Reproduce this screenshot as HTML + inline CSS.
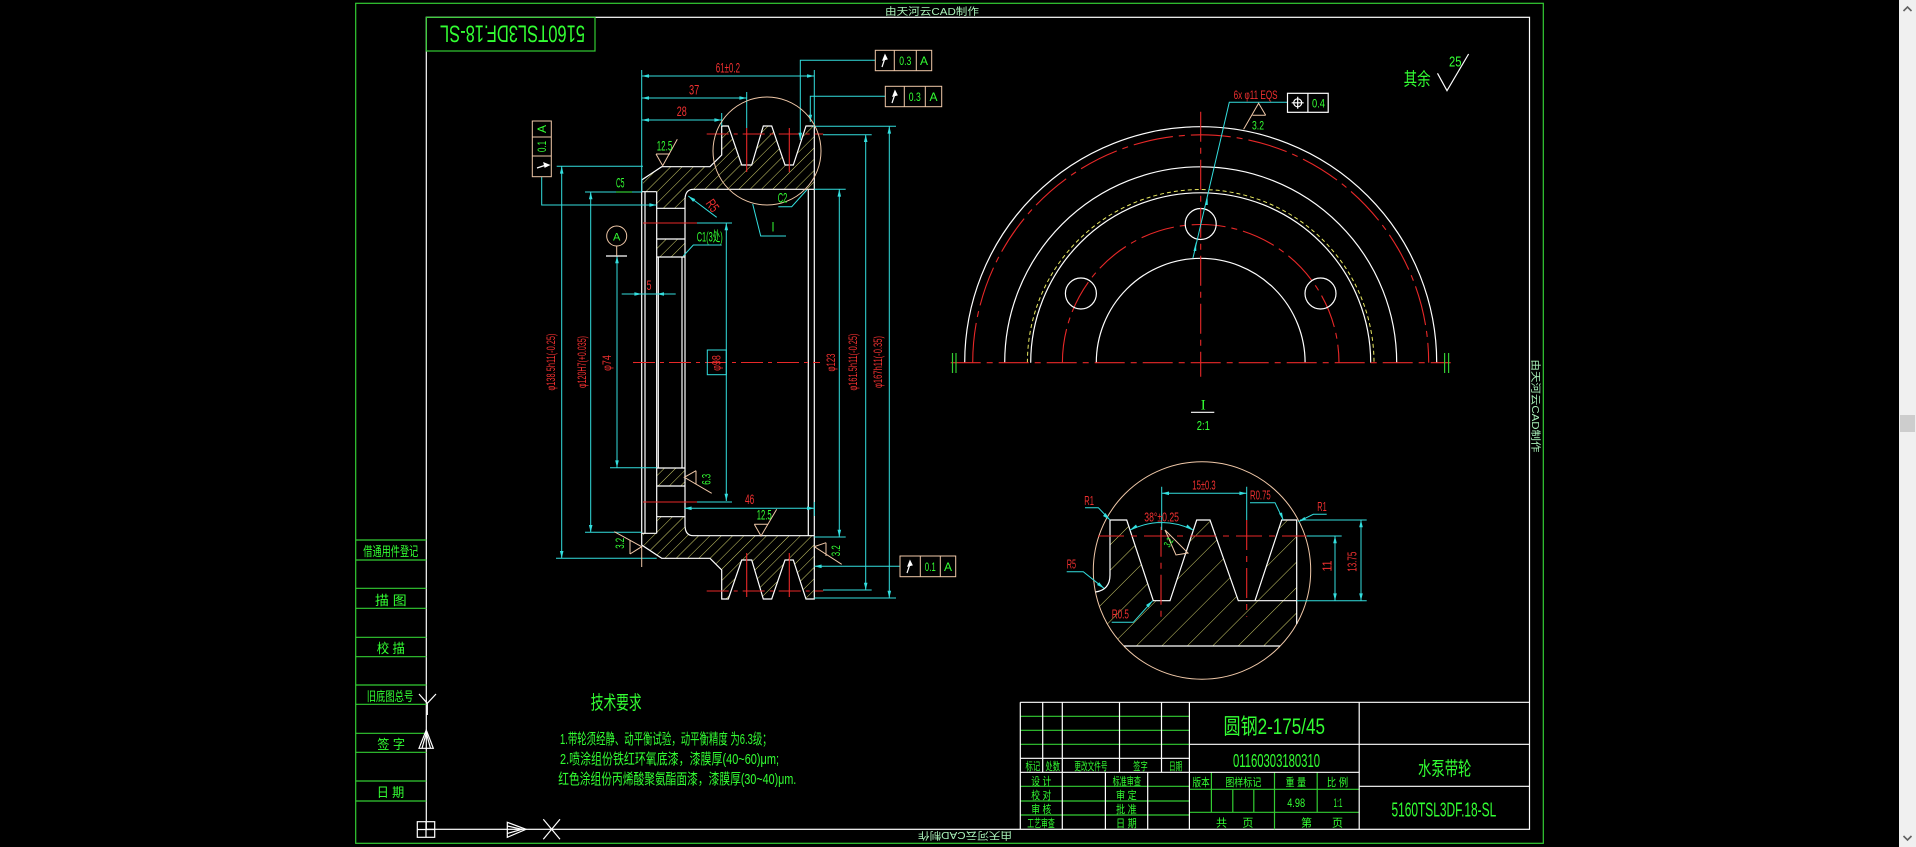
<!DOCTYPE html>
<html><head><meta charset="utf-8"><style>
html,body{margin:0;padding:0;background:#000;overflow:hidden;width:1916px;height:847px}
svg{display:block;font-family:"Liberation Sans","Noto Sans CJK SC",sans-serif}
.w{stroke:#fff;stroke-width:1.2;fill:none}
.gl{stroke:#33cc33;stroke-width:1.2;fill:none}
.c{stroke:#33dede;stroke-width:1;fill:none}
.r{stroke:#e82828;stroke-width:1.1;fill:none}
.p{stroke:#f0c8a8;stroke-width:1;fill:none}
.dd{stroke-dasharray:22 5 4 5}
.tg{fill:#3f3}.tr{fill:#f03030}.tw{fill:#fff}
.ca{fill:#33dede}
</style></head><body>
<svg width="1916" height="847" viewBox="0 0 1916 847" xmlns="http://www.w3.org/2000/svg">
<defs>
<pattern id="h1" patternUnits="userSpaceOnUse" width="8" height="8" patternTransform="rotate(45)"><line x1="0" y1="0" x2="0" y2="8" stroke="#e8e878" stroke-width="0.9"/></pattern>
<pattern id="h2" patternUnits="userSpaceOnUse" width="8" height="8" patternTransform="rotate(-45)"><line x1="0" y1="0" x2="0" y2="8" stroke="#e8e878" stroke-width="0.9"/></pattern>
<pattern id="h3" patternUnits="userSpaceOnUse" width="18" height="18" patternTransform="rotate(45)"><line x1="0" y1="0" x2="0" y2="18" stroke="#e8e878" stroke-width="0.9"/></pattern>
</defs>
<rect width="1916" height="847" fill="#000"/>

<!-- frames -->
<rect x="355.7" y="3.3" width="1187.6" height="840" fill="none" stroke="#33cc33" stroke-width="1.2"/>
<rect x="426.3" y="17.3" width="1103.2" height="812" fill="none" stroke="#fff" stroke-width="1.2"/>
<text x="932" y="15" font-size="10" fill="#a8f0b8" text-anchor="middle" textLength="94" lengthAdjust="spacingAndGlyphs">由天河云CAD制作</text>
<text transform="rotate(180 965 836)" x="965" y="840" font-size="10" fill="#a8f0b8" text-anchor="middle" textLength="94" lengthAdjust="spacingAndGlyphs">由天河云CAD制作</text>
<text transform="rotate(90 1536 406)" x="1536" y="410" font-size="10" fill="#a8f0b8" text-anchor="middle" textLength="93" lengthAdjust="spacingAndGlyphs">由天河云CAD制作</text>

<!-- top-left reversed number box -->
<rect x="426.3" y="17.3" width="168.7" height="33.7" fill="none" stroke="#33cc33" stroke-width="1.2"/>
<text transform="rotate(180 512.5 34)" x="512.5" y="42.6" font-size="24" class="tg" text-anchor="middle" textLength="145" lengthAdjust="spacingAndGlyphs">5160TSL3DF.18-SL</text>

<!-- ===== LEFT SECTION VIEW ===== -->
<path d="M643,180 L661.7,166.7 H710 L721.7,155 V126 H728.3 L741.7,165 H751.7 L763.3,126 H771.7 L785,165 H793.3 L806,126 H814.3 V189.3 H693.3 Q685,189.3 685,200 V208.3 H656.7 V191.7 H643 Z" fill="url(#h1)"/>
<rect x="656.7" y="239" width="28.3" height="18" fill="url(#h1)"/>
<g transform="matrix(1 0 0 -1 0 725)">
<path d="M643,180 L661.7,166.7 H710 L721.7,155 V126 H728.3 L741.7,165 H751.7 L763.3,126 H771.7 L785,165 H793.3 L806,126 H814.3 V189.3 H693.3 Q685,189.3 685,200 V208.3 H656.7 V191.7 H643 Z" fill="url(#h2)"/>
<rect x="656.7" y="239" width="28.3" height="18" fill="url(#h2)"/>
</g>
<g>
 <path class="w" d="M641.7,362.5 V180 L661.7,166.7 H710 L721.7,155 V126 H728.3 L741.7,165 H751.7 L763.3,126 H771.7 L785,165 H793.3 L806,126 H814.3 V362.5"/>
 <path class="w" d="M808.3,189.3 V362.5 M814.3,189.3 H693.3 Q685,189.3 685,200 V362.5 M641.7,191.7 H656.7 M645,191.7 V362.5 M656.7,191.7 V362.5 M658.3,257 V362.5 M682,257 V362.5 M656.7,208.3 H685 M656.7,239 H685 M656.7,257 H685"/>
 <path class="r dd" d="M706.7,134 H823.3"/>
 <path class="r" d="M746.7,128 V172 M789.3,128 V172 M643,223 H697"/>
</g>
<g transform="matrix(1 0 0 -1 0 725)">
 <path class="w" d="M641.7,362.5 V180 L661.7,166.7 H710 L721.7,155 V126 H728.3 L741.7,165 H751.7 L763.3,126 H771.7 L785,165 H793.3 L806,126 H814.3 V362.5"/>
 <path class="w" d="M808.3,189.3 V362.5 M814.3,189.3 H693.3 Q685,189.3 685,200 V362.5 M641.7,191.7 H656.7 M645,191.7 V362.5 M656.7,191.7 V362.5 M658.3,257 V362.5 M682,257 V362.5 M656.7,208.3 H685 M656.7,239 H685 M656.7,257 H685"/>
 <path class="r dd" d="M706.7,134 H823.3"/>
 <path class="r" d="M746.7,128 V172 M789.3,128 V172 M643,223 H697"/>
 <path class="c" d="M697,223 H732"/>
</g>
<path class="c" d="M697,223 H732"/>
<path class="r dd" d="M633,362.5 H820"/>

<!-- cyan dimension lines -->
<path class="c" d="M641.7,70 V192 M641.7,76 H814.3 M814.3,70 V126 M641.7,98 H746.7 M746.7,92 V128 M641.7,120 H721.7 M721.7,113 V126
M875.3,60.3 H800.3 V140 M885.3,96.3 H810.3 V122
M813,126.3 H896 M889.3,126.3 V598 M814.3,598 H896
M823,134.7 H871.7 M865.7,134.7 V590 M823,590 H871.7
M814.3,189.3 H845.7 M839.3,189.3 V537 M814.3,537 H845.7
M900,566.3 H814.3
M541.7,176.7 V205 H656.7
M556.7,166.3 H643 M561.7,166.3 V558.3 M556,558.3 H656.7
M585,192 H641.7 M590.7,192 V532.3 M585,532.3 H641.7
M617,256 V467.7 M610,467.7 H656.7
M621.7,294 H675.7
M726.3,223 V501
M684.3,508.3 H814.3 M814.3,502 V516
M716.7,217.3 L688.3,196
M721.7,245 H693.3 L683.3,256
M778.3,206.7 H791.7 L806.7,190
M752.7,204 L760.7,236 H786"/>
<g class="ca">
<polygon points="641.7,76 649,74.2 649,77.8"/><polygon points="814.3,76 807,74.2 807,77.8"/>
<polygon points="641.7,98 649,96.2 649,99.8"/><polygon points="746.7,98 739.4,96.2 739.4,99.8"/>
<polygon points="641.7,120 649,118.2 649,121.8"/><polygon points="721.7,120 714.4,118.2 714.4,121.8"/>
<polygon points="800.3,140 798.5,132.7 802.1,132.7"/><polygon points="810.3,122 808.5,114.7 812.1,114.7"/>
<polygon points="889.3,126.3 887.5,133.6 891.1,133.6"/><polygon points="889.3,598 887.5,590.7 891.1,590.7"/>
<polygon points="865.7,134.7 863.9,142 867.5,142"/><polygon points="865.7,590 863.9,582.7 867.5,582.7"/>
<polygon points="839.3,189.3 837.5,196.6 841.1,196.6"/><polygon points="839.3,537 837.5,529.7 841.1,529.7"/>
<polygon points="814.3,566.3 821.6,564.5 821.6,568.1"/>
<polygon points="656.7,205 649.4,203.2 649.4,206.8"/>
<polygon points="561.7,166.3 559.9,173.6 563.5,173.6"/><polygon points="561.7,558.3 559.9,551 563.5,551"/>
<polygon points="590.7,192 588.9,199.3 592.5,199.3"/><polygon points="590.7,532.3 588.9,525 592.5,525"/>
<polygon points="617,467.7 615.2,460.4 618.8,460.4"/><polygon points="617,256 615.2,263.3 618.8,263.3"/>
<polygon points="641.7,294 634.4,292.2 634.4,295.8"/><polygon points="656.7,294 664,292.2 664,295.8"/>
<polygon points="726.3,223 724.5,230.3 728.1,230.3"/><polygon points="726.3,501 724.5,493.7 728.1,493.7"/>
<polygon points="684.3,508.3 691.6,506.5 691.6,510.1"/><polygon points="814.3,508.3 807,506.5 807,510.1"/>
<polygon points="688.3,196 693.1,201.9 695.3,199.1"/>
</g>
<circle cx="767" cy="151" r="54" class="p"/>
<circle cx="616.7" cy="236" r="10" class="p"/>
<path class="w" d="M606,256 H627"/>
<path class="p" d="M616.7,246 V256"/>
<rect x="532.3" y="121" width="19" height="55.7" class="p"/>
<path class="p" d="M532.3,137 H551.3 M532.3,156 H551.3"/>
<rect x="900" y="556" width="55.7" height="20.7" class="p"/>
<path class="p" d="M920.3,556 V576.7 M940.3,556 V576.7"/>
<rect x="875.3" y="50.3" width="56.4" height="20.4" class="p"/>
<path class="p" d="M894.3,50.3 V70.7 M916.3,50.3 V70.7"/>
<rect x="885.3" y="86.3" width="56.4" height="20.4" class="p"/>
<path class="p" d="M904.3,86.3 V106.7 M925.3,86.3 V106.7"/>
<path class="p" d="M656,154 L662.7,165.7 L677.3,139.3 M656,154 H670"/>
<path class="p" d="M754.3,524.3 L761,536 L776.7,509.3 M754.3,524.3 H768.3"/>
<path class="p" d="M696,470.7 L684.3,477.3 L711.7,493.3 M696,470.7 V484"/>
<path class="p" d="M630,554 L641.7,546.7 L614.3,531.7 M630,540 V554 M641.7,546 V567"/>
<path class="p" d="M826,542.7 L814.3,546.7 L841.7,564.3 M826,542.7 V556"/>
<g class="tw">
<path d="M882,67 L885,58 M885,55 L883,60 L887,59 Z" stroke="#fff" stroke-width="1.2"/>
<path d="M892,103 L895,94 M895,91 L893,96 L897,95 Z" stroke="#fff" stroke-width="1.2"/>
<path d="M907,573 L910,564 M910,561 L908,566 L912,565 Z" stroke="#fff" stroke-width="1.2"/>
<path d="M537,168 L546,165 M549,165 L544,163 L545,167 Z" stroke="#fff" stroke-width="1.2"/>
</g>
<g font-size="14" class="tr">
<text x="715.7" y="72.5" textLength="24.3" lengthAdjust="spacingAndGlyphs">61±0.2</text>
<text x="689" y="94.3" textLength="10.3" lengthAdjust="spacingAndGlyphs">37</text>
<text x="676.7" y="116" textLength="10" lengthAdjust="spacingAndGlyphs">28</text>
<text x="646.5" y="290" textLength="5" lengthAdjust="spacingAndGlyphs">5</text>
<text x="745" y="504" textLength="9.3" lengthAdjust="spacingAndGlyphs">46</text>
<text transform="rotate(55 712 206)" x="712" y="210" text-anchor="middle" textLength="12" lengthAdjust="spacingAndGlyphs">R5</text>
</g>
<g font-size="12" class="tr" text-anchor="middle">
<text transform="rotate(-90 551 362)" x="551" y="366" textLength="57" lengthAdjust="spacingAndGlyphs">φ138.5h11(-0.25)</text>
<text transform="rotate(-90 582 362)" x="582" y="366" textLength="52" lengthAdjust="spacingAndGlyphs">φ120H7(+0.035)</text>
<text transform="rotate(-90 607 363)" x="607" y="367" textLength="15.7" lengthAdjust="spacingAndGlyphs">φ74</text>
<text transform="rotate(-90 716.7 363)" x="716.7" y="367" textLength="15.7" lengthAdjust="spacingAndGlyphs">φ98</text>
<text transform="rotate(-90 831 362.5)" x="831" y="366.5" textLength="18" lengthAdjust="spacingAndGlyphs">φ123</text>
<text transform="rotate(-90 853 362)" x="853" y="366" textLength="57" lengthAdjust="spacingAndGlyphs">φ161.5h11(-0.25)</text>
<text transform="rotate(-90 878 362)" x="878" y="366" textLength="52" lengthAdjust="spacingAndGlyphs">φ167h11(-0.35)</text>
</g>
<rect x="707.3" y="350" width="19" height="24.7" class="c"/>
<g font-size="14" class="tg">
<text x="656.7" y="150.5" textLength="15.6" lengthAdjust="spacingAndGlyphs">12.5</text>
<text x="756.7" y="519.3" textLength="15" lengthAdjust="spacingAndGlyphs">12.5</text>
<text x="616" y="187.3" textLength="8.5" lengthAdjust="spacingAndGlyphs">C5</text>
<text x="777.7" y="202.7" textLength="9.6" lengthAdjust="spacingAndGlyphs">C2</text>
<text x="771.5" y="231.7" textLength="3" lengthAdjust="spacingAndGlyphs">I</text>
<text x="696.7" y="241.7" textLength="26" lengthAdjust="spacingAndGlyphs">C1(3处)</text>
<text x="616.7" y="240.5" font-size="11" text-anchor="middle">A</text>
<text transform="rotate(-90 706.7 479.3)" x="706.7" y="483.3" text-anchor="middle" font-size="12" textLength="11" lengthAdjust="spacingAndGlyphs">6.3</text>
<text transform="rotate(-90 620 543.3)" x="620" y="547.3" text-anchor="middle" font-size="12" textLength="11" lengthAdjust="spacingAndGlyphs">3.2</text>
<text transform="rotate(-90 836 550.7)" x="836" y="554.7" text-anchor="middle" font-size="12" textLength="11" lengthAdjust="spacingAndGlyphs">3.2</text>
</g>
<path class="gl" d="M616,192 H632"/>
<g class="tg" font-size="12" text-anchor="middle">
<text x="905.3" y="65" textLength="12" lengthAdjust="spacingAndGlyphs">0.3</text>
<text x="924" y="65">A</text>
<text x="914.8" y="101" textLength="12" lengthAdjust="spacingAndGlyphs">0.3</text>
<text x="933.5" y="101">A</text>
<text x="930.3" y="571" textLength="11" lengthAdjust="spacingAndGlyphs">0.1</text>
<text x="948" y="571">A</text>
<text transform="rotate(-90 541.8 129)" x="541.8" y="133">A</text>
<text transform="rotate(-90 541.8 146.5)" x="541.8" y="150.5" textLength="11" lengthAdjust="spacingAndGlyphs">0.1</text>
</g>

<!-- ===== HALF CIRCLE VIEW ===== -->
<g>
<path class="w" d="M964.7,362.7 A236,236 0 0 1 1436.7,362.7"/>
<path class="r" stroke-dasharray="40 6 6 6" d="M972.7,362.7 A228,228 0 0 1 1428.7,362.7"/>
<path class="w" d="M1004.7,362.7 A196,196 0 0 1 1396.7,362.7"/>
<path stroke="#e8e860" stroke-width="1" fill="none" stroke-dasharray="4 3" d="M1027.4,362.7 A173.3,173.3 0 0 1 1374,362.7"/>
<path class="w" d="M1030.7,362.7 A170,170 0 0 1 1370.7,362.7"/>
<path class="r" stroke-dasharray="34 6 6 6" d="M1062.4,362.7 A138.3,138.3 0 0 1 1339,362.7"/>
<path class="w" d="M1096.3,362.7 A104.4,104.4 0 0 1 1305.1,362.7"/>
<circle cx="1200.7" cy="224" r="15.5" class="w"/>
<circle cx="1080.9" cy="293.5" r="15.5" class="w"/>
<circle cx="1320.5" cy="293.5" r="15.5" class="w"/>
<path class="r" stroke-dasharray="30 6 6 6" d="M950.7,362.7 H1450.7 M1200.7,111.7 V376.7"/>
<path class="gl" d="M952.5,353 V373 M956,353 V373 M1444.6,353 V373 M1448.6,353 V373"/>
<path class="c" d="M1287.5,102.3 H1229.3 L1192.9,258.3"/>
<polygon class="ca" points="1207.5,196 1205,205 1207.8,205"/>
<polygon class="ca" points="1196,242 1193.5,251 1196.3,251"/>
<rect x="1287.5" y="93.3" width="40.7" height="19" fill="none" stroke="#fff" stroke-width="1.2"/>
<path class="w" d="M1307.9,93.3 V112.3"/>
<circle cx="1297.7" cy="102.8" r="4" class="w"/>
<path class="w" d="M1291.7,102.8 H1303.7 M1297.7,96.8 V108.8"/>
<text x="1312" y="107.5" font-size="12" class="tg" textLength="13" lengthAdjust="spacingAndGlyphs">0.4</text>
<text x="1233.6" y="99" font-size="12" class="tr" textLength="44" lengthAdjust="spacingAndGlyphs">6x φ11 EQS</text>
<path class="p" d="M1265.7,115.3 L1258.6,103.3 L1243.6,129.3 M1252.5,115.3 H1265.7"/>
<text x="1252" y="129.5" font-size="12" class="tg" textLength="12" lengthAdjust="spacingAndGlyphs">3.2</text>
<text x="1403.6" y="85.5" font-size="18" class="tg" textLength="27" lengthAdjust="spacingAndGlyphs">其余</text>
<path class="w" d="M1437.5,73.3 L1447,90.7 L1468.6,54"/>
<text x="1449" y="66.5" font-size="15" class="tg" textLength="12.5" lengthAdjust="spacingAndGlyphs">25</text>
</g>

<!-- ===== DETAIL I ===== -->
<g>
<text x="1203.3" y="409.5" font-size="15" class="tg" text-anchor="middle" font-family="Liberation Serif,serif">I</text>
<path class="w" d="M1191,412.3 H1214.3"/>
<text x="1203.3" y="430" font-size="13" class="tg" text-anchor="middle" textLength="13" lengthAdjust="spacingAndGlyphs">2:1</text>
<path d="M1110,520 H1126.7 L1153.3,600.7 H1170 L1196.7,520 H1210 L1238.3,600.7 H1255 L1281.7,520 H1296.7 V624 A108.7,108.7 0 0 1 1280,646 H1124 A108.7,108.7 0 0 1 1095.5,592 Q1110,590 1110,575 Z" fill="url(#h3)"/>
<circle cx="1202" cy="570.5" r="108.7" class="p"/>
<path class="w" d="M1095.5,592 Q1110,590 1110,575 V520 H1126.7 L1153.3,600.7 H1170 L1196.7,520 H1210 L1238.3,600.7 H1255 L1281.7,520 H1296.7 V624 M1124,646 H1280 M1255,600.7 H1296.7"/>
<path class="r" stroke-dasharray="26 7 6 7" d="M1098,536 H1306.7"/>
<path class="r" stroke-dasharray="30 6 6 6" d="M1161,526.7 V620 M1246.7,520 V616.7"/>
<path class="c" d="M1161.7,486.7 V530 M1246.7,486.7 V520 M1161.7,493.3 H1246.7 M1130,530 Q1161.7,515 1193.3,530
M1306.7,536 H1341.7 M1300,520 H1366.7 M1296.7,600.7 H1366.7 M1335,536 V600.7 M1361,520 V600.7
M1085,507.7 H1098.3 L1110,520 M1250,502.7 H1275 L1283.3,520 M1326.7,514.3 H1313.3 L1298.3,521.7 M1066.7,571.7 H1083.3 L1104,588.3 M1111.7,622.3 H1133.3 L1152.7,600.7"/>
<g class="ca">
<polygon points="1161.7,493.3 1169,491.5 1169,495.1"/><polygon points="1246.7,493.3 1239.4,491.5 1239.4,495.1"/>
<polygon points="1130,530 1136,524.5 1137.5,527.5"/><polygon points="1193.3,530 1187.3,524.5 1185.8,527.5"/>
<polygon points="1335,536 1333.2,543.3 1336.8,543.3"/><polygon points="1335,600.7 1333.2,593.4 1336.8,593.4"/>
<polygon points="1361,520 1359.2,527.3 1362.8,527.3"/><polygon points="1361,600.7 1359.2,593.4 1362.8,593.4"/>
<polygon points="1110,520 1103,516 1105.5,513"/><polygon points="1283.3,520 1279,513.5 1282,512.5"/>
<polygon points="1298.3,521.7 1304.5,517 1306,520"/><polygon points="1104,588.3 1097,585 1099.2,582.2"/>
<polygon points="1152.7,600.7 1146,605 1148.5,607.5"/>
</g>
<path class="p" d="M1165,530 L1176,555 L1188,553 Z"/>
<g font-size="13" class="tr">
<text x="1192.3" y="489.3" textLength="23.4" lengthAdjust="spacingAndGlyphs">15±0.3</text>
<text x="1144.3" y="521.7" textLength="34.7" lengthAdjust="spacingAndGlyphs">38°±0.25</text>
<text x="1084.3" y="505" textLength="9.7" lengthAdjust="spacingAndGlyphs">R1</text>
<text x="1250" y="499.3" textLength="20.7" lengthAdjust="spacingAndGlyphs">R0.75</text>
<text x="1317.3" y="511" textLength="9.4" lengthAdjust="spacingAndGlyphs">R1</text>
<text x="1066.7" y="568.3" textLength="9.3" lengthAdjust="spacingAndGlyphs">R5</text>
<text x="1111.7" y="618.3" textLength="17.3" lengthAdjust="spacingAndGlyphs">R0.5</text>
<text transform="rotate(-90 1327.7 566)" x="1327.7" y="570" text-anchor="middle" textLength="11" lengthAdjust="spacingAndGlyphs">11</text>
<text transform="rotate(-90 1352.7 561.7)" x="1352.7" y="565.7" text-anchor="middle" textLength="20" lengthAdjust="spacingAndGlyphs">13.75</text>
</g>
<text transform="rotate(-60 1168.3 542.3)" x="1168.3" y="546" font-size="10" class="tg" text-anchor="middle" textLength="9" lengthAdjust="spacingAndGlyphs">3.2</text>
</g>

<!-- ===== LEFT COLUMN ===== -->
<path class="gl" d="M355.7,540 H426.3 M355.7,560 H426.3 M355.7,588.3 H426.3 M355.7,608.3 H426.3 M355.7,637.3 H426.3 M355.7,656.7 H426.3 M355.7,685 H426.3 M355.7,704.3 H426.3 M355.7,733.3 H426.3 M355.7,752.3 H426.3 M355.7,781 H426.3 M355.7,801 H426.3"/>
<g class="tg" font-size="13">
<text x="363.3" y="556" textLength="55" lengthAdjust="spacingAndGlyphs">借通用件登记</text>
<text x="375" y="605" textLength="31.7" lengthAdjust="spacingAndGlyphs">描 图</text>
<text x="376.7" y="653" textLength="28.3" lengthAdjust="spacingAndGlyphs">校 描</text>
<text x="366.7" y="701" textLength="46.6" lengthAdjust="spacingAndGlyphs">旧底图总号</text>
<text x="377.3" y="749" textLength="27.7" lengthAdjust="spacingAndGlyphs">签 字</text>
<text x="376.7" y="797" textLength="27.6" lengthAdjust="spacingAndGlyphs">日 期</text>
</g>
<path class="w" d="M419,694 L427.3,703.3 L436,694 M427.3,703.3 V715 M419,748.3 L426.3,730 L433.3,748.3 Z M422,748.3 L426.3,733 L430.5,748.3"/>
<rect x="417.3" y="821.7" width="17.4" height="15.6" class="w"/>
<path class="w" d="M426,821.7 V837.3 M417.3,829.5 H434.7"/>
<path class="w" d="M507.3,822.3 L526,829.3 L507.3,837.3 Z M507.3,826 L522,829.3 L507.3,833.5 M543.3,819.3 L560,839.3 M560,819.3 L543.3,839.3"/>

<!-- technical requirements -->
<g class="tg">
<text x="590.7" y="709" font-size="19" textLength="51" lengthAdjust="spacingAndGlyphs">技术要求</text>
<text x="560" y="744" font-size="15" textLength="211.7" lengthAdjust="spacingAndGlyphs">1.带轮须经静、动平衡试验，动平衡精度 为6.3级；</text>
<text x="560" y="764" font-size="15" textLength="219" lengthAdjust="spacingAndGlyphs">2.喷涂组份铁红环氧底漆，漆膜厚(40~60)μm;</text>
<text x="558.3" y="784" font-size="15" textLength="238" lengthAdjust="spacingAndGlyphs">红色涂组份丙烯酸聚氨酯面漆，漆膜厚(30~40)μm.</text>
</g>

<!-- ===== TITLE BLOCK ===== -->
<path class="gl" d="M1020.3,716.3 H1189.4 M1020.3,730.3 H1189.4 M1020.3,744.3 H1189.4 M1020.3,786.3 H1189.4 M1020.3,801 H1189.4 M1020.3,815 H1189.4
M1189.4,789.3 H1359.2 M1189.4,812.3 H1359.2 M1211.4,772.3 V812.3 M1232.8,789.3 V812.3 M1253.8,789.3 V812.3 M1274.5,772.3 V829.3 M1317.2,772.3 V812.3"/>
<path class="w" d="M1020.3,702.3 H1529.5 M1020.3,702.3 V829.3 M1189.4,702.3 V829.3 M1359.2,702.3 V829.3
M1042.7,702.3 V772.3 M1062.3,702.3 V829.3 M1119.5,702.3 V772.3 M1161.5,702.3 V772.3 M1105.4,772.3 V829.3 M1147.7,772.3 V829.3
M1020.3,758.3 H1189.4 M1020.3,772.3 H1189.4 M1189.4,744.3 H1359.2 M1189.4,772.3 H1359.2 M1359.2,744.3 H1529.5 M1359.2,786.3 H1529.5"/>
<g class="tg">
<text x="1223.5" y="734" font-size="22" textLength="101.5" lengthAdjust="spacingAndGlyphs">圆钢2-175/45</text>
<text x="1233" y="767" font-size="18" textLength="87" lengthAdjust="spacingAndGlyphs">01160303180310</text>
<text x="1418" y="775" font-size="19" textLength="53.4" lengthAdjust="spacingAndGlyphs">水泵带轮</text>
<text x="1391.5" y="816.5" font-size="20" textLength="104.7" lengthAdjust="spacingAndGlyphs">5160TSL3DF.18-SL</text>
</g>
<g class="tg" font-size="11">
<text x="1025.5" y="770" textLength="14.8" lengthAdjust="spacingAndGlyphs">标记</text>
<text x="1045.5" y="770" textLength="14.5" lengthAdjust="spacingAndGlyphs">处数</text>
<text x="1074.4" y="770" textLength="33.1" lengthAdjust="spacingAndGlyphs">更改文件号</text>
<text x="1133.3" y="770" textLength="14.4" lengthAdjust="spacingAndGlyphs">签字</text>
<text x="1169" y="770" textLength="13.2" lengthAdjust="spacingAndGlyphs">日期</text>
<text x="1031.3" y="785" textLength="20" lengthAdjust="spacingAndGlyphs">设 计</text>
<text x="1112.6" y="785" textLength="28.3" lengthAdjust="spacingAndGlyphs">标准审查</text>
<text x="1031.3" y="799" textLength="20" lengthAdjust="spacingAndGlyphs">校 对</text>
<text x="1116" y="799" textLength="20.7" lengthAdjust="spacingAndGlyphs">审 定</text>
<text x="1031.3" y="813" textLength="20" lengthAdjust="spacingAndGlyphs">审 核</text>
<text x="1116" y="813" textLength="20.7" lengthAdjust="spacingAndGlyphs">批 准</text>
<text x="1027.2" y="827" textLength="27.6" lengthAdjust="spacingAndGlyphs">工艺审查</text>
<text x="1116" y="827" textLength="20.7" lengthAdjust="spacingAndGlyphs">日 期</text>
<text x="1192.5" y="786" textLength="17.2" lengthAdjust="spacingAndGlyphs">版本</text>
<text x="1225.2" y="786" textLength="36.2" lengthAdjust="spacingAndGlyphs">图样标记</text>
<text x="1285.5" y="786" textLength="20.6" lengthAdjust="spacingAndGlyphs">重 量</text>
<text x="1326.8" y="786" textLength="21.4" lengthAdjust="spacingAndGlyphs">比 例</text>
<text x="1287.2" y="807" font-size="12" textLength="17.9" lengthAdjust="spacingAndGlyphs">4.98</text>
<text x="1333.5" y="807" font-size="12" textLength="9" lengthAdjust="spacingAndGlyphs">1:1</text>
<text x="1216" y="826.5">共</text>
<text x="1242.4" y="826.5">页</text>
<text x="1301" y="826.5">第</text>
<text x="1332" y="826.5">页</text>
</g>

<!-- scrollbar -->
<rect x="1899" y="0" width="17" height="847" fill="#f0f0f0"/>
<path d="M1903.5,11 L1907.5,7 L1911.5,11" stroke="#606060" stroke-width="1.6" fill="none"/>
<path d="M1903.5,836 L1907.5,840 L1911.5,836" stroke="#606060" stroke-width="1.6" fill="none"/>
<rect x="1900" y="415" width="15" height="17" fill="#cdcdcd"/>
</svg>
</body></html>
